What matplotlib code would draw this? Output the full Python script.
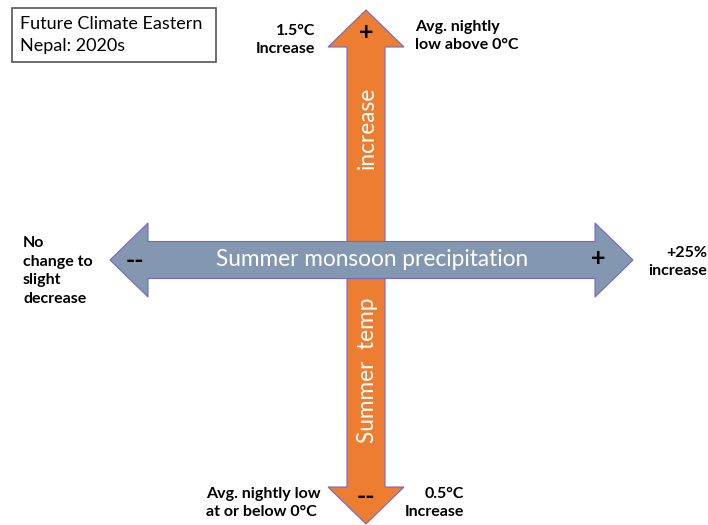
import matplotlib.pyplot as plt
from matplotlib.patches import Polygon, Rectangle

# Diagram text
title_lines = ["Future Climate Eastern", "Nepal: 2020s"]
vertical_axis_label = ["increase", "Summer  temp"]
horizontal_axis_label = "Summer monsoon precipitation"
top_left_label = "1.5°C\nIncrease"
top_right_label = "Avg. nightly\nlow above 0°C"
left_label = "No\nchange to\nslight\ndecrease"
right_label = "+25%\nincrease"
bottom_left_label = "Avg. nightly low\nat or below 0°C"
bottom_right_label = "0.5°C\nIncrease"
pos_sign = "+"
neg_sign = "--"

ORANGE = "#ED7D31"
SLATE = "#8497B0"
EDGE = "#7468C8"

plt.rcParams['font.family'] = ['Lato', 'DejaVu Sans']


def double_arrow(start, end, shaft_w, head_w, head_len):
    # two-headed block arrow as (along, across) points around 0
    s, e = start, end
    return [
        (s, 0),
        (s + head_len, -head_w / 2),
        (s + head_len, -shaft_w / 2),
        (e - head_len, -shaft_w / 2),
        (e - head_len, -head_w / 2),
        (e, 0),
        (e - head_len, head_w / 2),
        (e - head_len, shaft_w / 2),
        (s + head_len, shaft_w / 2),
        (s + head_len, head_w / 2),
    ]


fig = plt.figure(figsize=(7.08, 5.25), dpi=100)
ax = fig.add_axes([0, 0, 1, 1])
ax.set_xlim(0, 708)
ax.set_ylim(525, 0)
ax.axis('off')

# vertical arrow (temperature)
vx = 366
v_pts = [(vx + b, a) for a, b in double_arrow(10, 524, 38, 76, 37)]
ax.add_patch(Polygon(v_pts, closed=True, facecolor=ORANGE, edgecolor=EDGE, lw=0.8, zorder=1))

# horizontal arrow (precipitation)
hy = 260
h_pts = [(a, hy + b) for a, b in double_arrow(110, 633, 37, 74, 38)]
ax.add_patch(Polygon(h_pts, closed=True, facecolor=SLATE, edgecolor=EDGE, lw=0.8, zorder=2))

# title box
ax.add_patch(Rectangle((12, 8), 204, 54, facecolor='white', edgecolor='#555555', lw=1.2, zorder=3))
ax.text(20, 35, "\n".join(title_lines), fontsize=13, ha='left', va='center',
        linespacing=1.45, zorder=4)

# axis labels inside arrows
big = dict(color='white', fontsize=16.3, ha='center', va='center', zorder=3)
ax.text(vx + 1, 128, vertical_axis_label[0], rotation=90, **big)
ax.text(vx + 1, 370, vertical_axis_label[1], rotation=90, **big)
ax.text(372, hy, horizontal_axis_label, **big)

# signs
sign = dict(fontsize=18, fontweight='bold', ha='center', va='center', zorder=3)
ax.text(vx, 33, pos_sign, **sign)
ax.text(vx, 496, neg_sign, **sign)
ax.text(135, hy, neg_sign, **sign)
ax.text(598, hy - 2, pos_sign, **sign)

# end labels
lbl = dict(fontsize=11.5, fontweight='bold', linespacing=1.4, zorder=3)
ax.text(315, 40, top_left_label, ha='right', va='center', multialignment='right', **lbl)
ax.text(415, 36, top_right_label, ha='left', va='center', **lbl)
ax.text(23, 271, left_label, ha='left', va='center', **lbl)
ax.text(707, 262, right_label, ha='right', va='center', multialignment='right', **lbl)
ax.text(206, 503, bottom_left_label, ha='left', va='center', **lbl)
ax.text(464, 503, bottom_right_label, ha='right', va='center', multialignment='right', **lbl)

fig.savefig('out.png', dpi=100)
